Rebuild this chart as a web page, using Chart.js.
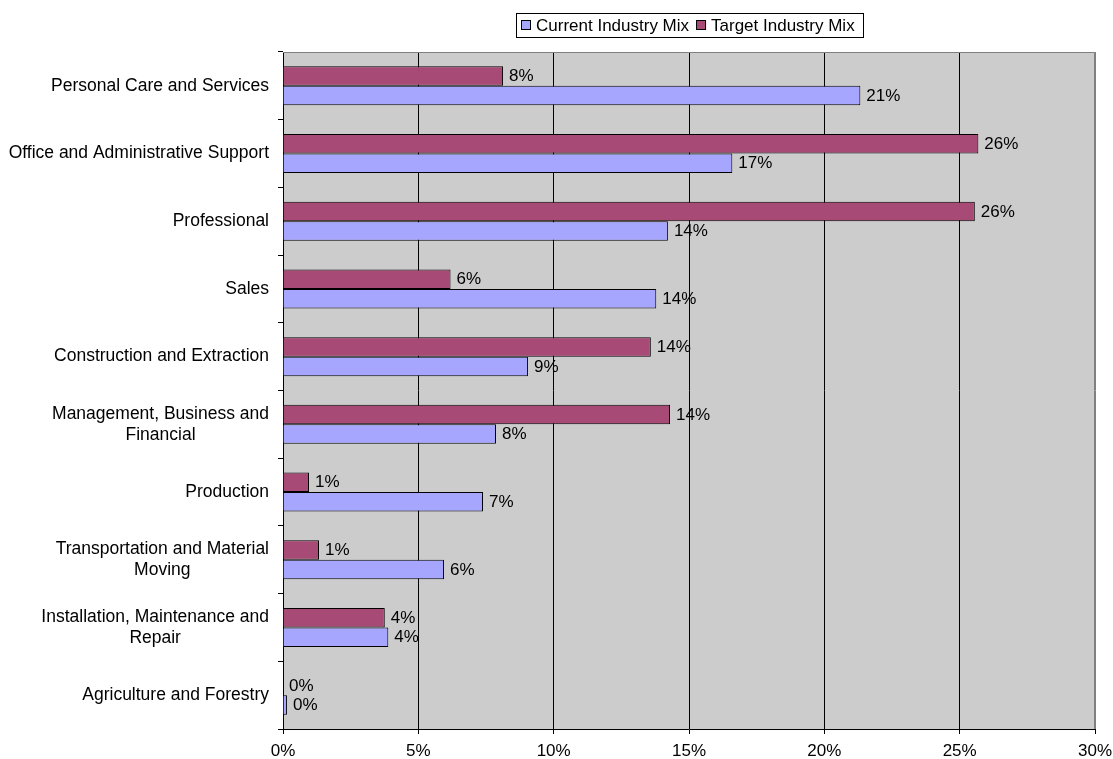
<!DOCTYPE html>
<html>
<head>
<meta charset="utf-8">
<script src="https://cdn.jsdelivr.net/npm/chart.js@4.4.0/dist/chart.umd.min.js"></script>
<style>
  html, body { margin: 0; padding: 0; background: #ffffff; }
  #wrap { width: 1113px; height: 759px; }
</style>
</head>
<body>
<div id="wrap"><canvas id="chart" width="1113" height="759"></canvas></div>
<script>
// Occupation groups, top to bottom (multi-line names are split into lines)
const categories = [
  ["Personal Care and Services"],
  ["Office and Administrative Support"],
  ["Professional"],
  ["Sales"],
  ["Construction and Extraction"],
  ["Management, Business and", "Financial"],
  ["Production"],
  ["Transportation and Material", "Moving"],
  ["Installation, Maintenance and", "Repair"],
  ["Agriculture and Forestry"]
];

// Share of employment, in percent
const currentMix = [21.33, 16.6, 14.22, 13.79, 9.05, 7.87, 7.39, 5.95, 3.89, 0.15];
const targetMix  = [8.13, 25.69, 25.56, 6.19, 13.59, 14.3, 0.96, 1.33, 3.76, 0];

const seriesNames = ["Current Industry Mix", "Target Industry Mix"];
const seriesColors = ["#a6a6ff", "#a84a76"];

// Value axis: 0% to 30% in steps of 5
const xMin = 0, xMax = 30, xStep = 5;

const FONT = '"Liberation Sans", Arial, Helvetica, sans-serif';
const FONT_SIZE = 17;
const CAT_FONT_SIZE = 17.5;

// Gray plot area with a gray top/right frame
const plotBackground = {
  id: 'plotBackground',
  beforeDraw(chart) {
    const { ctx, chartArea: a } = chart;
    ctx.save();
    ctx.fillStyle = '#cccccc';
    ctx.fillRect(a.left, a.top, a.right - a.left, a.bottom - a.top);
    ctx.restore();
  },
  beforeDatasetsDraw(chart) {
    const { ctx, chartArea: a } = chart;
    ctx.save();
    ctx.strokeStyle = '#808080';
    ctx.lineWidth = 1;
    ctx.beginPath();
    ctx.moveTo(a.left, a.top + 0.5);
    ctx.lineTo(a.right - 0.5, a.top + 0.5);
    ctx.lineTo(a.right - 0.5, a.bottom);
    ctx.stroke();
    ctx.restore();
  }
};

// Category names left of the axis: block right-aligned, lines centred in the block
const categoryLabels = {
  id: 'categoryLabels',
  afterDraw(chart) {
    const { ctx } = chart;
    const y = chart.scales.y;
    const rightEdge = y.right - 14;
    const lineH = 21;
    ctx.save();
    ctx.font = CAT_FONT_SIZE + 'px ' + FONT;
    ctx.fillStyle = '#000';
    ctx.textAlign = 'center';
    ctx.textBaseline = 'middle';
    categories.forEach((lines, i) => {
      const cy = y.getPixelForValue(i);
      const widest = Math.max(...lines.map(l => ctx.measureText(l).width));
      const cx = rightEdge - widest / 2;
      const y0 = cy - (lines.length - 1) * lineH / 2;
      lines.forEach((l, k) => ctx.fillText(l, cx, y0 + k * lineH));
    });
    ctx.restore();
  }
};

// Rounded percentage next to the end of every bar
const valueLabels = {
  id: 'valueLabels',
  afterDatasetsDraw(chart) {
    const { ctx } = chart;
    ctx.save();
    ctx.font = FONT_SIZE + 'px ' + FONT;
    ctx.fillStyle = '#000';
    ctx.textAlign = 'left';
    ctx.textBaseline = 'middle';
    chart.data.datasets.forEach((ds, di) => {
      const meta = chart.getDatasetMeta(di);
      meta.data.forEach((bar, i) => {
        const v = ds.data[i];
        ctx.fillText(Math.round(v) + '%', bar.x + 6, bar.y + 0.5);
      });
    });
    ctx.restore();
  }
};

// Boxed legend centred over the plot area
const boxedLegend = {
  id: 'boxedLegend',
  afterDraw(chart) {
    const { ctx, chartArea: a } = chart;
    ctx.save();
    ctx.font = FONT_SIZE + 'px ' + FONT;
    const sq = 10, gapText = 5, gapItem = 7, padL = 5, padR = 8;
    const widths = seriesNames.map(n => ctx.measureText(n).width);
    let total = padL + padR;
    widths.forEach((w, i) => { total += sq + gapText + w + (i < widths.length - 1 ? gapItem : 0); });
    total = Math.round(total);
    const left = Math.round((a.left + a.right) / 2 - total / 2);
    const top = 13, h = 24, cy = top + h / 2;
    ctx.fillStyle = '#fff';
    ctx.fillRect(left, top, total, h);
    ctx.strokeStyle = '#000';
    ctx.lineWidth = 1;
    ctx.strokeRect(left + 0.5, top + 0.5, total, h);
    let x = left + padL;
    seriesNames.forEach((n, i) => {
      ctx.fillStyle = seriesColors[i];
      ctx.fillRect(x, cy - sq / 2, sq, sq);
      ctx.strokeStyle = '#000';
      ctx.strokeRect(x + 0.5, cy - sq / 2 + 0.5, sq - 1, sq - 1);
      x += sq + gapText;
      ctx.fillStyle = '#000';
      ctx.textAlign = 'left';
      ctx.textBaseline = 'middle';
      ctx.fillText(n, x, cy + 1);
      x += widths[i] + gapItem;
    });
    ctx.restore();
  }
};

new Chart(document.getElementById('chart'), {
  type: 'bar',
  data: {
    labels: categories,
    datasets: [
      {
        label: seriesNames[1],
        data: targetMix,
        backgroundColor: seriesColors[1],
        borderColor: '#000',
        borderWidth: 1,
        borderSkipped: 'left'
      },
      {
        label: seriesNames[0],
        data: currentMix,
        backgroundColor: seriesColors[0],
        borderColor: '#000',
        borderWidth: 1,
        borderSkipped: 'left'
      }
    ]
  },
  options: {
    indexAxis: 'y',
    responsive: false,
    animation: false,
    devicePixelRatio: 1,
    categoryPercentage: 0.576,
    barPercentage: 1.0,
    layout: { padding: { top: 52, right: 18, left: 0, bottom: 0 } },
    plugins: {
      legend: { display: false },
      tooltip: { enabled: false }
    },
    scales: {
      x: {
        min: xMin,
        max: xMax,
        ticks: {
          stepSize: xStep,
          padding: 7,
          color: '#000',
          font: { family: FONT, size: FONT_SIZE },
          callback: v => v + '%'
        },
        grid: {
          color: ctx => (ctx.tick && ctx.tick.value === xMax) ? '#808080' : '#000',
          tickColor: '#000',
          tickLength: 5,
          lineWidth: 1
        },
        border: { display: true, color: '#000', width: 1 },
        afterFit: s => { s.height = 30; s.paddingLeft = 0; s.paddingRight = 0; }
      },
      y: {
        ticks: { display: false },
        grid: {
          offset: true,
          drawOnChartArea: false,
          drawTicks: true,
          tickLength: 5,
          color: '#000',
          tickColor: '#000'
        },
        border: { display: true, color: '#000', width: 1 },
        afterFit: s => { s.width = 283; }
      }
    }
  },
  plugins: [plotBackground, valueLabels, categoryLabels, boxedLegend]
});
</script>
</body>
</html>
